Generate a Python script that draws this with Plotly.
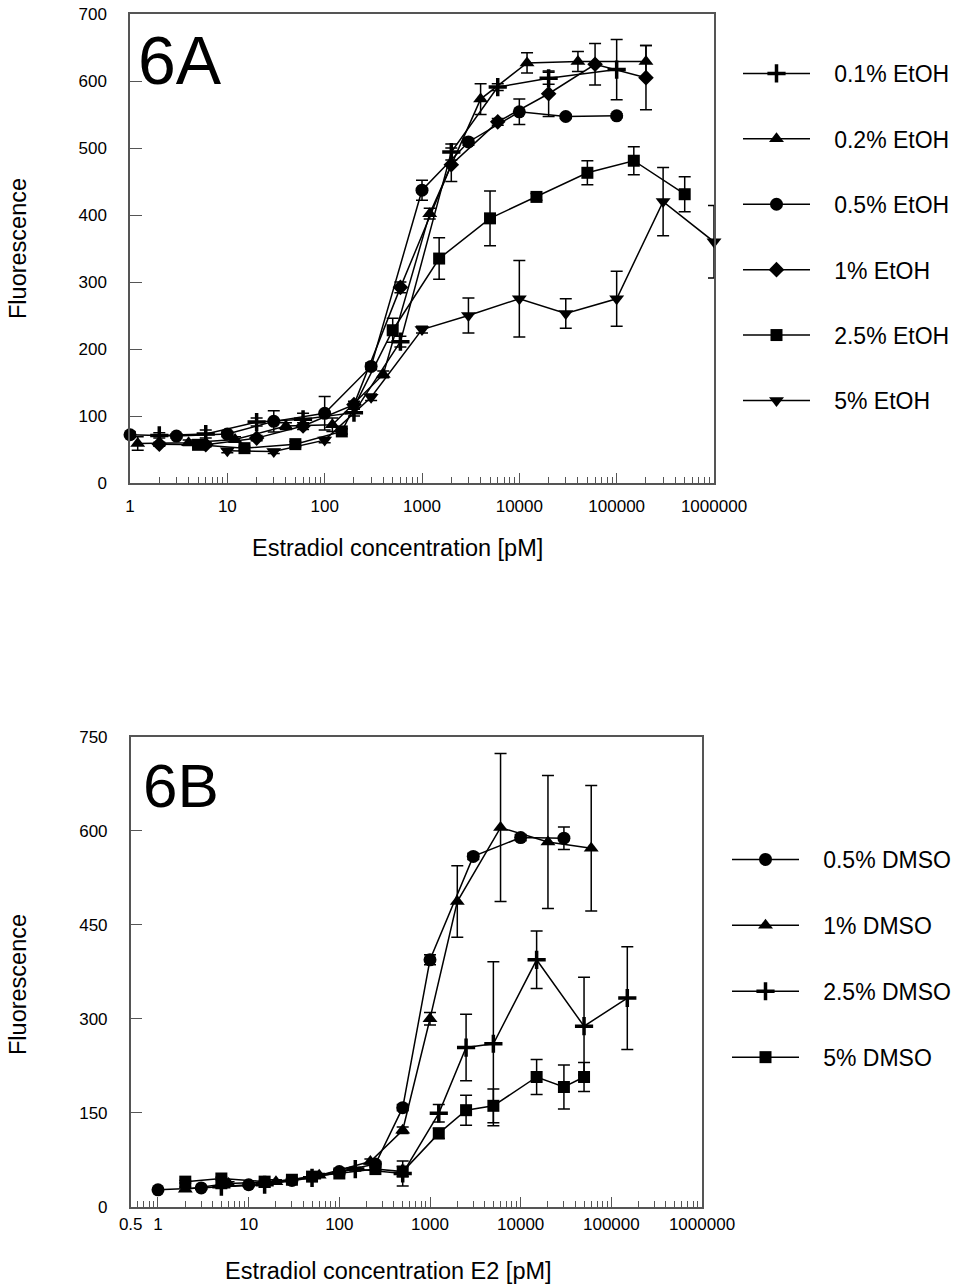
import plotly.graph_objects as go

# ---------------- Figure 6A data (EtOH) ----------------
a_names = ["0.1% EtOH", "0.2% EtOH", "0.5% EtOH", "1% EtOH", "2.5% EtOH", "5% EtOH"]
a_symbols = ["cross-thin", "triangle-up", "circle", "diamond", "square", "triangle-down"]

a01_x = [2, 6, 20, 60, 200, 600, 2000, 6000, 20000, 100000]
a01_y = [71, 73, 91, 95, 105, 211, 494, 591, 604, 617]
a01_e = [4, 6, 6, 9, 5, 8, 12, 5, 9, 45]

a02_x = [1.2, 4, 12, 40, 120, 400, 1200, 4000, 12000, 40000, 200000]
a02_y = [59, 60, 65, 85, 87, 162, 402, 573, 627, 629, 629]
a02_e = [10, 4, 4, 5, 10, 5, 8, 23, 15, 15, 24]

a05_x = [1, 3, 10, 30, 100, 300, 1000, 3000, 10000, 30000, 100000]
a05_y = [72, 70, 73, 92, 104, 174, 437, 509, 554, 547, 548]
a05_e = [4, 3, 4, 16, 25, 5, 15, 5, 19, 3, 3]

a1_x = [2, 6, 20, 60, 200, 600, 2000, 6000, 20000, 60000, 200000]
a1_y = [58, 57, 67, 85, 117, 292, 475, 539, 581, 625, 605]
a1_e = [3, 3, 4, 5, 5, 8, 25, 5, 34, 31, 48]

a25_x = [5, 15, 50, 150, 500, 1500, 5000, 15000, 50000, 150000, 500000]
a25_y = [57, 52, 58, 77, 228, 335, 395, 427, 463, 481, 431]
a25_e = [3, 3, 4, 4, 18, 31, 41, 5, 18, 21, 26]

a5_x = [10, 30, 100, 300, 1000, 3000, 10000, 30000, 100000, 300000, 1000000]
a5_y = [48, 47, 64, 128, 229, 250, 275, 253, 275, 420, 360]
a5_e = [3, 3, 4, 5, 5, 26, 57, 22, 41, 51, 54]

a_x = [a01_x, a02_x, a05_x, a1_x, a25_x, a5_x]
a_y = [a01_y, a02_y, a05_y, a1_y, a25_y, a5_y]
a_e = [a01_e, a02_e, a05_e, a1_e, a25_e, a5_e]

a_xticks = [1, 10, 100, 1000, 10000, 100000, 1000000]
a_xticklabels = ["1", "10", "100", "1000", "10000", "100000", "1000000"]
a_yticks = [0, 100, 200, 300, 400, 500, 600, 700]

# ---------------- Figure 6B data (DMSO) ----------------
b_names = ["0.5% DMSO", "1% DMSO", "2.5% DMSO", "5% DMSO"]
b_symbols = ["circle", "triangle-up", "cross-thin", "square"]

b05_x = [1, 3, 10, 30, 100, 250, 500, 1000, 3000, 10000, 30000]
b05_y = [27, 30, 35, 42, 56, 68, 158, 394, 559, 589, 588]
b05_e = [2, 2, 2, 2, 3, 4, 5, 8, 5, 5, 18]

b1_x = [2, 6, 20, 60, 220, 500, 1000, 2000, 6000, 20000, 60000]
b1_y = [28, 37, 40, 50, 72, 122, 300, 487, 605, 582, 572]
b1_e = [3, 3, 3, 3, 4, 5, 10, 57, 118, 106, 100]

b25_x = [5, 15, 50, 150, 500, 1250, 2500, 5000, 15000, 50000, 150000]
b25_y = [32, 35, 46, 60, 53, 149, 254, 260, 394, 288, 333]
b25_e = [3, 4, 3, 3, 20, 14, 53, 131, 46, 78, 82]

b5_x = [2, 5, 15, 30, 50, 100, 250, 500, 1250, 2500, 5000, 15000, 30000, 50000]
b5_y = [40, 45, 40, 43, 48, 53, 60, 56, 117, 154, 161, 207, 191, 207]
b5_e = [2, 2, 2, 2, 2, 2, 2, 8, 8, 24, 27, 28, 35, 23]

b_x = [b05_x, b1_x, b25_x, b5_x]
b_y = [b05_y, b1_y, b25_y, b5_y]
b_e = [b05_e, b1_e, b25_e, b5_e]

b_xticks = [0.5, 1, 10, 100, 1000, 10000, 100000, 1000000]
b_xticklabels = ["0.5", "1", "10", "100", "1000", "10000", "100000", "1000000"]
b_yticks = [0, 150, 300, 450, 600, 750]

# ---------------- styling ----------------
FONT = "Liberation Sans, Arial, sans-serif"
AX = "#555555"
marker_size = {"cross-thin": 13, "triangle-up": 13, "circle": 13, "diamond": 12,
               "square": 12, "triangle-down": 13}
PAD = "\u00a0\u00a0\u00a0"

W, H = 955, 1286
fig = go.Figure()


def add_series(xs, ys, es, name, sym, xa, ya, legend, idx):
    lw = 3.5 if sym == "cross-thin" else 0
    fig.add_trace(go.Scatter(
        x=xs, y=ys, name=PAD + name, mode="lines+markers",
        xaxis=xa, yaxis=ya, legend=legend, legendgroup=f"{legend}{idx}",
        cliponaxis=False,
        line=dict(color="black", width=1.5),
        marker=dict(symbol=sym, size=marker_size[sym], color="black",
                    line=dict(width=lw, color="black")),
        error_y=dict(type="data", array=es, symmetric=True, color="black",
                     thickness=1.5, width=6),
    ))


for i in range(len(a_names)):
    add_series(a_x[i], a_y[i], a_e[i], a_names[i], a_symbols[i], "x", "y", "legend", i)
for i in range(len(b_names)):
    add_series(b_x[i], b_y[i], b_e[i], b_names[i], b_symbols[i], "x2", "y2", "legend2", i)

tickfont = dict(family=FONT, size=17, color="black")

common_x = dict(type="log", showgrid=False, zeroline=False, showline=True,
                linecolor=AX, linewidth=1.5, mirror=True, ticks="inside",
                ticklen=10, tickwidth=1.2, tickcolor=AX, tickmode="array",
                tickfont=tickfont, automargin=False,
                minor=dict(ticks="inside", ticklen=6, tickwidth=1.2,
                           tickcolor=AX, dtick="D1", showgrid=False))
common_y = dict(showgrid=False, zeroline=False, showline=True, linecolor=AX,
                linewidth=1.5, mirror=True, ticks="inside", ticklen=12,
                tickwidth=1.2, tickcolor=AX, tickmode="array", tickfont=tickfont,
                ticklabelstandoff=18, automargin=False)

title_font = dict(family=FONT, size=23.5, color="black")
legend_font = dict(family=FONT, size=23, color="black")


def ann(text, x, y, font, angle=0):
    return dict(text=text, x=x / W, y=1 - y / H, xref="paper", yref="paper",
                xanchor="center", yanchor="middle", textangle=angle,
                showarrow=False, font=font)


fig.update_layout(
    width=W, height=H, margin=dict(l=0, r=0, t=0, b=0, autoexpand=False),
    paper_bgcolor="white", plot_bgcolor="white",
    font=dict(family=FONT, color="black"),
    xaxis=dict(common_x, domain=[130 / W, 714 / W], range=[0, 6],
               tickvals=a_xticks, ticktext=a_xticklabels, anchor="y",
               ticklabelstandoff=7),
    yaxis=dict(common_y, domain=[1 - 483 / H, 1 - 14 / H], range=[0, 700],
               tickvals=a_yticks, anchor="x"),
    xaxis2=dict(common_x, domain=[130.7 / W, 702 / W], range=[-0.30103, 6],
                tickvals=b_xticks, ticktext=b_xticklabels, anchor="y2",
                ticklabelstandoff=1),
    yaxis2=dict(common_y, domain=[1 - 1206.7 / H, 1 - 736.7 / H], range=[0, 750],
                tickvals=b_yticks, anchor="x2"),
    legend=dict(x=738 / W, y=1 - 52 / H, xanchor="left", yanchor="top",
                font=legend_font, tracegroupgap=32.5, itemwidth=67,
                bgcolor="rgba(0,0,0,0)"),
    legend2=dict(x=727 / W, y=1 - 838 / H, xanchor="left", yanchor="top",
                 font=legend_font, tracegroupgap=33, itemwidth=67,
                 bgcolor="rgba(0,0,0,0)"),
    annotations=[
        dict(text="6A", x=136 / W, y=1 - 60 / H, xref="paper", yref="paper",
             xanchor="left", yanchor="middle", showarrow=False,
             font=dict(family=FONT, size=68, color="black")),
        dict(text="6B", x=141 / W, y=1 - 785 / H, xref="paper", yref="paper",
             xanchor="left", yanchor="middle", showarrow=False,
             font=dict(family=FONT, size=62, color="black")),
        ann("Fluorescence", 18, 249, title_font, -90),
        ann("Estradiol concentration [pM]", 397, 548, title_font),
        ann("Fluorescence", 18, 985, title_font, -90),
        ann("Estradiol concentration E2 [pM]", 388, 1271, title_font),
    ],
)

fig.write_html("out.html")
